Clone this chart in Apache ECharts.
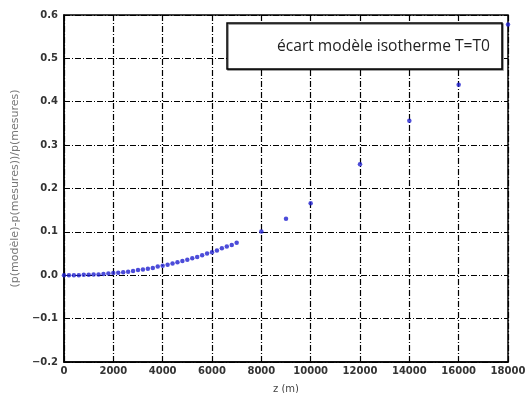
<!DOCTYPE html>
<html>
<head>
<meta charset="utf-8">
<script src="https://cdn.jsdelivr.net/npm/echarts@6/dist/echarts.min.js"></script>
<style>
  html, body { margin: 0; padding: 0; background: #fff; }
  #chart { width: 529px; height: 393px; }
</style>
</head>
<body>
<div id="chart"></div>
<script>
// altitude (m) and relative deviation
const zValues = [
    0, 200, 400, 600, 800, 1000, 1200, 1400, 1600, 1800,
    2000, 2200, 2400, 2600, 2800, 3000, 3200, 3400, 3600, 3800,
    4000, 4200, 4400, 4600, 4800, 5000, 5200, 5400, 5600, 5800,
    6000, 6200, 6400, 6600, 6800, 7000,
    8000, 9000, 10000, 12000, 14000, 16000, 18000
];
const ecart = [
    0.000, 0.000, 0.000, 0.000, 0.001, 0.001, 0.002, 0.002, 0.003, 0.004,
    0.005, 0.006, 0.007, 0.008, 0.010, 0.012, 0.013, 0.015, 0.017, 0.020,
    0.022, 0.024, 0.027, 0.030, 0.033, 0.036, 0.039, 0.042, 0.046, 0.050,
    0.053, 0.057, 0.062, 0.066, 0.070, 0.075,
    0.101, 0.130, 0.166, 0.256, 0.356, 0.439, 0.578
];
const serieName = 'écart modèle isotherme T=T0';
const yTicks = { min: -0.2, max: 0.6, step: 0.1 };
const xTicks = { min: 0, max: 18000, step: 2000 };

const chart = echarts.init(document.getElementById('chart'));

const points = zValues.map((z, i) => [z, ecart[i]]);

const gridLine = { show: true, lineStyle: { color: '#000', width: 1.2, type: [6, 2, 1, 2] } };
const labelStyle = { fontFamily: 'DejaVu Sans', fontWeight: 'bold', fontSize: 10, color: '#333' };

chart.setOption({
    animation: false,
    backgroundColor: '#fff',
    grid: {
        left: 64, right: 21, top: 15, bottom: 31,
        containLabel: false,
        outerBoundsMode: 'none',
        show: true, borderColor: '#000', borderWidth: 1.5
    },
    legend: {
        show: true,
        left: 227, top: 23,
        padding: [16, 12, 14, 45],
        backgroundColor: '#fff',
        borderColor: '#000',
        borderWidth: 1.5,
        shadowColor: 'rgba(0,0,0,0.5)',
        shadowOffsetX: 1, shadowOffsetY: 1,
        itemWidth: 0, itemHeight: 0,
        textStyle: { fontFamily: 'Open Sans', fontSize: 15.6, color: '#222' },
        data: [{ name: serieName, icon: 'none' }]
    },
    xAxis: {
        type: 'value',
        min: xTicks.min, max: xTicks.max, interval: xTicks.step,
        name: 'z (m)',
        nameLocation: 'middle',
        nameGap: 22,
        nameTextStyle: { fontFamily: 'DejaVu Sans', fontSize: 10, color: '#444' },
        axisLine: { show: true, onZero: false, lineStyle: { color: '#000', width: 1.5 } },
        axisTick: { show: false },
        axisLabel: Object.assign({ margin: 4, formatter: v => String(v) }, labelStyle),
        splitLine: gridLine
    },
    yAxis: {
        type: 'value',
        min: yTicks.min, max: yTicks.max, interval: yTicks.step,
        name: '(p(modèle)-p(mesures))/p(mesures)',
        nameLocation: 'middle',
        nameGap: 31,
        nameTextStyle: { fontFamily: 'DejaVu Sans', fontSize: 11, color: '#777' },
        axisLine: { show: true, onZero: false, lineStyle: { color: '#000', width: 1.5 } },
        axisTick: { show: false },
        axisLabel: Object.assign({
            margin: 6,
            formatter: v => v.toFixed(1).replace('-', '\u2212')
        }, labelStyle),
        splitLine: gridLine
    },
    series: [{
        name: serieName,
        type: 'scatter',
        data: points,
        symbol: 'circle',
        symbolSize: 4.5,
        clip: false,
        itemStyle: { color: '#1f1fd0' },
        z: 3
    }]
});
</script>
</body>
</html>
